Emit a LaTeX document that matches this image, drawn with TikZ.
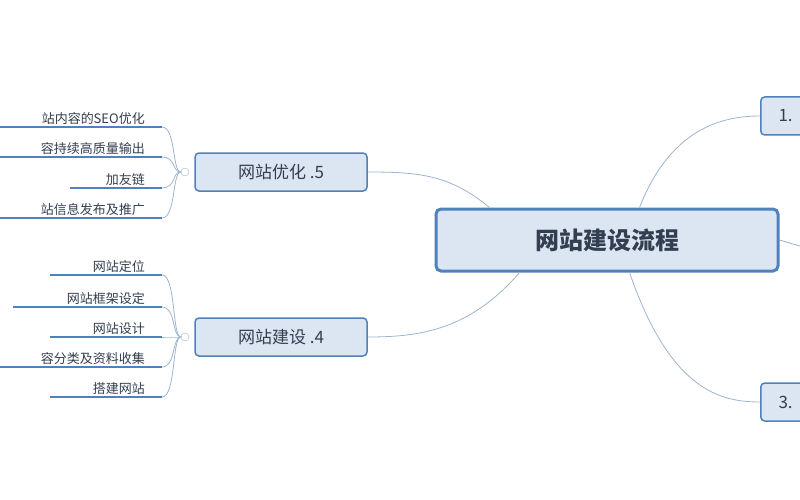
\documentclass[tikz,border=0pt]{standalone}
\usepackage{fontspec}
\usepackage{xcolor}
\setmainfont{Noto Sans CJK SC}
\usetikzlibrary{positioning,calc}
\definecolor{boxfill}{HTML}{DCE6F2}
\definecolor{boxline}{HTML}{4F81BD}
\definecolor{txt}{HTML}{333F50}
\definecolor{curve}{HTML}{9DB4D0}

\begin{document}
\begin{tikzpicture}[
    x=1pt, y=-1pt,
    root/.style={rectangle, draw=boxline, line width=3pt, fill=boxfill, rounded corners=5pt, minimum width=342pt, minimum height=62pt, font=\fontsize{24}{24}\selectfont\bfseries, text=txt},
    branch/.style={rectangle, draw=boxline, line width=1.5pt, fill=boxfill, rounded corners=4pt, minimum width=172pt, minimum height=38pt, font=\fontsize{17}{17}\selectfont, text=txt},
    leaf/.style={anchor=south east, inner sep=2pt, font=\fontsize{13}{13}\selectfont, text=txt},
    uline/.style={draw=boxline, line width=1.5pt},
    link/.style={draw=curve, line width=0.8pt}
]
    \useasboundingbox (0,0) rectangle (800,500);
    \clip (0,0) rectangle (800,500);
    \fill[white] (0,0) rectangle (800,500);

    % main topic
    \node [root] (root) at (607,240) {网站建设流程};
    \node [branch, anchor=west, minimum width=120pt] (one) at (760,116) {};
    \node [anchor=west, font=\fontsize{17}{17}\selectfont, text=txt] at (775,116) {1.};
    \node [branch, anchor=west, minimum width=120pt] (three) at (760,402) {};
    \node [anchor=west, font=\fontsize{17}{17}\selectfont, text=txt] at (775,402) {3.};
    \coordinate (two) at (820,252);
    \node [branch] (five) at (281,172) {网站优化 .5};
    \node [branch] (four) at (281,337) {网站建设 .4};

    \path [link] (root.north west) ++(55,0) .. controls (450,175) and (420,172) .. (five.east);
    \path [link] (root.south west) ++(85,0) .. controls (470,330) and (420,337) .. (four.east);
    \path [link] (root.north west) ++(205,0) .. controls (670,130) and (720,116) .. (one.west);
    \path [link] (root.south west) ++(195,0) .. controls (670,390) and (720,402) .. (three.west);
    \path [link] (root.east) -- (two);

    % small knobs
    \node [circle, draw=curve, fill=white, inner sep=0pt, minimum size=8pt] (k5) at (185,172) {};
    \node [circle, draw=curve, fill=white, inner sep=0pt, minimum size=8pt] (k4) at (185,337) {};

    % leaves of 5
    \foreach \y/\s/\t in {127/-20/站内容的SEO优化, 157/-20/容持续高质量输出, 188/70/加友链, 218/-20/站信息发布及推广}{
        \coordinate (e) at (162,\y);
        \path [uline] (\s,\y) -- (e);
        \node [leaf] at (147,\y) {\t};
        \path [link] (k5.west) .. controls (172,172) and (176,\y) .. (e);
    }
    % leaves of 4
    \foreach \y/\s/\t in {275/50/网站定位, 307/13/网站框架设定, 337/50/网站设计, 367/-20/容分类及资料收集, 397/50/搭建网站}{
        \coordinate (e) at (162,\y);
        \path [uline] (\s,\y) -- (e);
        \node [leaf] at (147,\y) {\t};
        \path [link] (k4.west) .. controls (172,337) and (176,\y) .. (e);
    }
\end{tikzpicture}
\end{document}
